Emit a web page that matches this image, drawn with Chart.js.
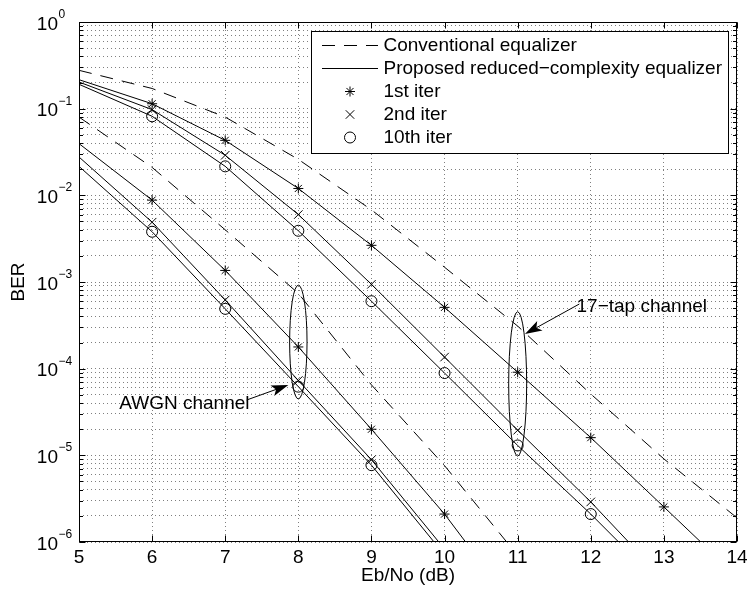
<!DOCTYPE html>
<html>
<head>
<meta charset="utf-8">
<script src="https://cdn.jsdelivr.net/npm/chart.js@4/dist/chart.umd.min.js"></script>
<style>
html,body{margin:0;padding:0;background:#fff;}
canvas{display:block;}
</style>
</head>
<body>
<canvas id="c" width="747" height="592"></canvas>
<script>
// ---------- data ----------
const ebno = [5, 6, 7, 8, 9, 10, 11, 12, 13, 14];

const tap17Conventional = [0.277, 0.171, 0.080, 0.026, 6.8e-3, 1.48e-3, 3.1e-4, 5.1e-5, 9.1e-6, 1.9e-6];
const tap17Iter1  = [0.216, 0.114, 0.0431, 0.0120, 2.65e-3, 5.1e-4, 9.1e-5, 1.6e-5, 2.54e-6, 4.0e-7];
const tap17Iter2  = [0.203, 0.0975, 0.029, 6.0e-3, 9.4e-4, 1.36e-4, 1.95e-5, 2.9e-6, 3.7e-7];
const tap17Iter10 = [0.191, 0.0817, 0.0216, 3.9e-3, 6.0e-4, 8.9e-5, 1.3e-5, 2.1e-6, 3.0e-7];

const awgnConventional = [0.080, 0.021, 4.0e-3, 7.4e-4, 6.5e-5, 7.6e-6, 7.0e-7];
const awgnIter1  = [0.0395, 8.8e-3, 1.36e-3, 1.78e-4, 2.0e-5, 2.1e-6, 1.6e-7];
const awgnIter2  = [0.0277, 4.9e-3, 6.2e-4, 7.3e-5, 8.9e-6, 8.3e-7];
const awgnIter10 = [0.0216, 3.8e-3, 4.9e-4, 6.2e-5, 7.7e-6, 7.1e-7];

const xTickValues = [5, 6, 7, 8, 9, 10, 11, 12, 13, 14];
const xTickLabels = ['5', '6', '7', '8', '9', '10', '11', '12', '13', '14'];
const yDecadeValues = [1, 1e-1, 1e-2, 1e-3, 1e-4, 1e-5, 1e-6];
const yTickBase = '10';
const yTickExponents = ['0', '\u22121', '\u22122', '\u22123', '\u22124', '\u22125', '\u22126'];

const xTitle = 'Eb/No (dB)';
const yTitle = 'BER';
const legendLabels = ['Conventional equalizer', 'Proposed reduced\u2212complexity equalizer', '1st iter', '2nd iter', '10th iter'];

// annotation anchors, in data units (dB, BER)
const awgnLabel = {text: 'AWGN channel', x: 7.332, y: 3.96e-5};
const awgnArrow = {from: [7.294, 4.35e-5], to: [7.863, 6.48e-5]};
const awgnEllipse = {x: 8, halfWidth: 0.119, top: 9.2e-4, bottom: 4.47e-5};
const tapLabel = {text: '17\u2212tap channel', x: 11.805, y: 5.15e-4};
const tapArrow = {from: [11.843, 5.57e-4], to: [11.100, 2.51e-4]};
const tapEllipse = {x: 11, halfWidth: 0.123, top: 4.54e-4, bottom: 9.8e-6};

// ---------- helpers ----------
const FONT = '"Liberation Sans", Arial, Helvetica, sans-serif';
const DASH = [13, 9];

function pts(arr) { return arr.map((v, i) => ({x: ebno[i], y: v})); }
function radii(arr, r) { return arr.map((v, i) => (ebno[i] >= 6 && ebno[i] <= 13 && v >= 1e-6) ? r : 0); }

function lineSet(label, arr, style, r, dashed) {
  return {
    label, data: pts(arr),
    borderColor: '#000', borderWidth: 1, borderDash: dashed ? DASH : [],
    tension: 0, fill: false,
    clip: {left: 0, top: 0, right: 0, bottom: 0},
    pointStyle: style || 'circle', pointRadius: style ? radii(arr, r) : 0,
    pointBorderColor: '#000', pointBackgroundColor: 'rgba(0,0,0,0)', pointBorderWidth: 1,
    pointHoverRadius: 0
  };
}

const yGridValues = [];
for (let e = -6; e < 0; e++) for (let m = 1; m <= 9; m++) yGridValues.push(+(m * Math.pow(10, e)).toPrecision(3));
yGridValues.push(1);

function drawMarker(ctx, style, x, y, r) {
  ctx.beginPath();
  const d = r * Math.SQRT1_2;
  if (style === 'star') {
    ctx.moveTo(x - r, y); ctx.lineTo(x + r, y);
    ctx.moveTo(x, y - r); ctx.lineTo(x, y + r);
    ctx.moveTo(x - d, y - d); ctx.lineTo(x + d, y + d);
    ctx.moveTo(x - d, y + d); ctx.lineTo(x + d, y - d);
  } else if (style === 'crossRot') {
    ctx.moveTo(x - d, y - d); ctx.lineTo(x + d, y + d);
    ctx.moveTo(x - d, y + d); ctx.lineTo(x + d, y - d);
  } else {
    ctx.arc(x, y, r, 0, Math.PI * 2);
  }
  ctx.stroke();
}

function drawArrow(ctx, x0, y0, x1, y1) {
  const dx = x1 - x0, dy = y1 - y0, len = Math.hypot(dx, dy);
  const ux = dx / len, uy = dy / len, nx = -uy, ny = ux;
  const L = 17, W = 5.5, notch = 4;
  ctx.beginPath();
  ctx.moveTo(x0, y0);
  ctx.lineTo(x1 - ux * (L - notch), y1 - uy * (L - notch));
  ctx.stroke();
  ctx.beginPath();
  ctx.moveTo(x1, y1);
  ctx.lineTo(x1 - ux * L + nx * W, y1 - uy * L + ny * W);
  ctx.lineTo(x1 - ux * (L - notch), y1 - uy * (L - notch));
  ctx.lineTo(x1 - ux * L - nx * W, y1 - uy * L - ny * W);
  ctx.closePath();
  ctx.fill();
}

const decorPlugin = {
  id: 'decor',
  afterDraw(chart) {
    const {ctx, chartArea: a, scales: {x, y}} = chart;
    ctx.save();
    ctx.strokeStyle = '#000';
    ctx.fillStyle = '#000';
    ctx.lineWidth = 1;
    ctx.setLineDash([]);

    // ellipses
    for (const e of [awgnEllipse, tapEllipse]) {
      const cx = x.getPixelForValue(e.x);
      const rx = x.getPixelForValue(e.x + e.halfWidth) - cx;
      const yt = y.getPixelForValue(e.top), yb = y.getPixelForValue(e.bottom);
      ctx.beginPath();
      ctx.ellipse(cx, (yt + yb) / 2, rx, (yb - yt) / 2, 0, 0, Math.PI * 2);
      ctx.stroke();
    }
    // arrows
    for (const ar of [awgnArrow, tapArrow]) {
      drawArrow(ctx, x.getPixelForValue(ar.from[0]), y.getPixelForValue(ar.from[1]),
                     x.getPixelForValue(ar.to[0]), y.getPixelForValue(ar.to[1]));
    }
    // annotation texts
    ctx.font = '19px ' + FONT;
    ctx.textBaseline = 'middle';
    ctx.textAlign = 'right';
    ctx.fillText(awgnLabel.text, x.getPixelForValue(awgnLabel.x), y.getPixelForValue(awgnLabel.y));
    ctx.textAlign = 'left';
    ctx.fillText(tapLabel.text, x.getPixelForValue(tapLabel.x), y.getPixelForValue(tapLabel.y));

    // frame
    const L = Math.round(a.left) + 0.5, R = Math.round(a.right) - 0.5;
    const T = Math.round(a.top) + 0.5, B = Math.round(a.bottom) - 0.5;
    ctx.strokeRect(L, T, R - L, B - T);

    // inward tick marks
    ctx.beginPath();
    for (const v of xTickValues) {
      const px = Math.round(x.getPixelForValue(v)) + 0.5;
      ctx.moveTo(px, B); ctx.lineTo(px, B - 6);
      ctx.moveTo(px, T); ctx.lineTo(px, T + 6);
    }
    for (const v of yGridValues) {
      const py = Math.round(y.getPixelForValue(v)) + 0.5;
      const major = yDecadeValues.includes(v);
      const len = major ? 6 : 3.5;
      ctx.moveTo(L, py); ctx.lineTo(L + len, py);
      ctx.moveTo(R, py); ctx.lineTo(R - len, py);
    }
    ctx.stroke();

    // y tick labels 10^n
    yDecadeValues.forEach((v, i) => {
      const py = y.getPixelForValue(v);
      ctx.font = '19px ' + FONT;
      ctx.textAlign = 'right';
      ctx.textBaseline = 'alphabetic';
      ctx.fillText(yTickBase, 58, py + 7.5);
      ctx.font = '12px ' + FONT;
      ctx.textAlign = 'left';
      ctx.fillText(yTickExponents[i], 58.5, py - 4);
    });

    // legend
    const bx = 311.5, by = 31.5, bw = 417, bh = 122;
    ctx.fillStyle = '#fff';
    ctx.fillRect(bx, by, bw, bh);
    ctx.strokeRect(bx, by, bw, bh);
    ctx.fillStyle = '#000';
    const rowY = i => 45.5 + 23 * i;
    ctx.setLineDash(DASH);
    ctx.beginPath(); ctx.moveTo(322, rowY(0)); ctx.lineTo(378, rowY(0)); ctx.stroke();
    ctx.setLineDash([]);
    ctx.beginPath(); ctx.moveTo(322, rowY(1)); ctx.lineTo(378, rowY(1)); ctx.stroke();
    drawMarker(ctx, 'star', 350, rowY(2), 5);
    drawMarker(ctx, 'crossRot', 350, rowY(3), 6);
    drawMarker(ctx, 'circle', 350, rowY(4), 5.5);
    ctx.font = '19px ' + FONT;
    ctx.textAlign = 'left';
    ctx.textBaseline = 'middle';
    legendLabels.forEach((t, i) => ctx.fillText(t, 383.5, rowY(i)));
    ctx.restore();
  }
};

const gridDots = {
  color: 'rgba(0,0,0,0.5)', lineWidth: 1, drawTicks: false,
  borderDash: [1, 3]
};

new Chart(document.getElementById('c'), {
  type: 'line',
  data: {
    datasets: [
      lineSet('17-tap conventional', tap17Conventional, null, 0, true),
      lineSet('17-tap 1st iter', tap17Iter1, 'star', 5, false),
      lineSet('17-tap 2nd iter', tap17Iter2, 'crossRot', 6, false),
      lineSet('17-tap 10th iter', tap17Iter10, 'circle', 5.5, false),
      lineSet('AWGN conventional', awgnConventional, null, 0, true),
      lineSet('AWGN 1st iter', awgnIter1, 'star', 5, false),
      lineSet('AWGN 2nd iter', awgnIter2, 'crossRot', 6, false),
      lineSet('AWGN 10th iter', awgnIter10, 'circle', 5.5, false)
    ]
  },
  options: {
    responsive: false,
    animation: false,
    devicePixelRatio: 1,
    events: [],
    layout: {padding: {top: 22, right: 10, left: 0, bottom: 0}},
    plugins: {legend: {display: false}, tooltip: {enabled: false}},
    scales: {
      x: {
        type: 'linear', min: 5, max: 14,
        afterBuildTicks: s => { s.ticks = xTickValues.map(v => ({value: v})); },
        afterFit: s => { s.height = 50; s.paddingLeft = 0; s.paddingRight = 0; },
        ticks: {
          color: '#000', font: {family: FONT, size: 19}, padding: 4,
          maxRotation: 0, autoSkip: false,
          callback: v => xTickLabels[xTickValues.indexOf(v)]
        },
        grid: gridDots,
        border: {display: false, dash: [1, 3]},
        title: {display: true, text: xTitle, color: '#000', font: {family: FONT, size: 19}, padding: {top: 0, bottom: 5}}
      },
      y: {
        type: 'logarithmic', min: 1e-6, max: 1,
        afterBuildTicks: s => { s.ticks = yGridValues.map(v => ({value: v})); },
        afterFit: s => { s.width = 79; s.paddingTop = 0; s.paddingBottom = 0; },
        ticks: {display: false},
        grid: gridDots,
        border: {display: false, dash: [1, 3]},
        title: {display: true, text: yTitle, color: '#000', font: {family: FONT, size: 19}, padding: {top: 7, bottom: 0}}
      }
    }
  },
  plugins: [decorPlugin]
});
</script>
</body>
</html>
